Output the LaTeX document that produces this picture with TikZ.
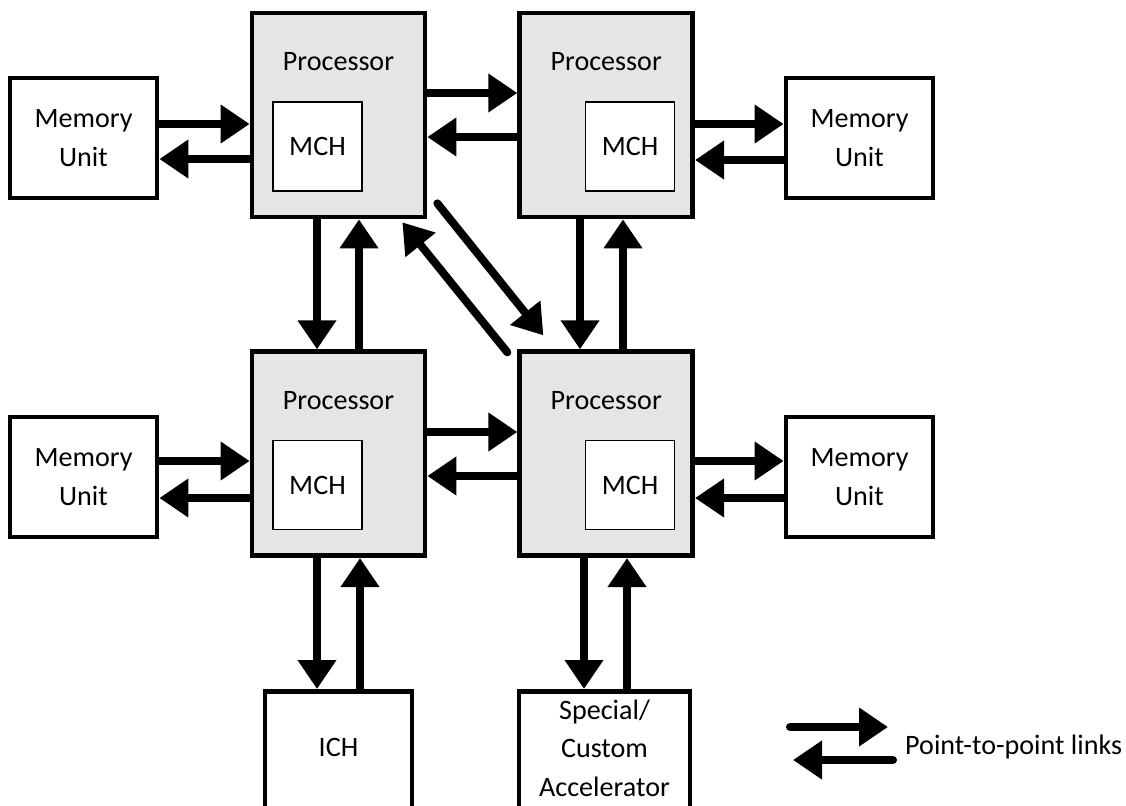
\documentclass[tikz,border=0pt]{standalone}
\usepackage{fontspec}
\setmainfont{Carlito}
\usetikzlibrary{positioning,calc,arrows.meta}
\tikzset{
	lbl/.style={font=\fontsize{16}{22}\selectfont, align=center},
	box/.style={lbl, draw, line width=0.095cm, fill=white, minimum width=2.94cm, minimum height=2.4cm},
	proc/.style={box, fill=gray!20, minimum width=3.46cm, minimum height=4.08cm},
	mch/.style={lbl, draw, line width=0.6pt, fill=white, minimum width=1.78cm, minimum height=1.78cm},
	link/.style={line width=0.16cm, line cap=round, -{Triangle[length=0.58cm,width=0.74cm]}},
}
\begin{document}
\begin{tikzpicture}[x=0.02cm, y=-0.02cm]
	\useasboundingbox (0,0) rectangle (1126,805);
	\clip (0,0) rectangle (1126,805);
	
	\node[proc] (p1) at (338.5,115) {};
	\node[proc, right=1.8cm of p1] (p2) {};
	\node[proc, below=2.6cm of p1] (p3) {};
	\node[proc, below=2.6cm of p2] (p4) {};
	\foreach \p/\dx in {p1/-21, p2/24, p3/-21, p4/24} {
		\node[lbl] (\p t) at ($(\p.north)+(0,51)$) {Processor};
		\node[mch] (\p m) at ($(\p)+(\dx,31.5)$) {MCH};
	}
	
	\node[box] (m1) at (83.5,138) {Memory\\Unit};
	\node[box] (m2) at (859.5,138) {Memory\\Unit};
	\node[box] (m3) at (83.5,477) {Memory\\Unit};
	\node[box] (m4) at (859.5,477) {Memory\\Unit};
	
	\node[box, minimum height=3.2cm, anchor=north] (ich) at (338.5,689) {};
	\node[lbl] (icht) at (338.5,747) {ICH};
	\node[box, minimum width=3.42cm, minimum height=3.2cm, anchor=north] (acc) at (604.5,689) {};
	\node[lbl] (acct) at (604.5,748) {Special/\\Custom\\Accelerator};
	
	\foreach \a/\b/\y in {m1/p1/124, m3/p3/461, p1/p2/93, p3/p4/432, p2/m2/124, p4/m4/461}
		\draw[link] (\a.east |- 0,\y) -- (\b.west |- 0,\y);
	\foreach \a/\b/\y in {p1/m1/159, p3/m3/498, p2/p1/137, p4/p3/476, m2/p2/160, m4/p4/498}
		\draw[link] (\a.west |- 0,\y) -- (\b.east |- 0,\y);
	\foreach \a/\b/\x in {p1/p3/317, p2/p4/580, p3/ich/317, p4/acc/584}
		\draw[link] (\a.south -| \x,0) -- (\b.north -| \x,0);
	\foreach \a/\b/\x in {p3/p1/359, p4/p2/623, ich/p3/360, acc/p4/627}
		\draw[link] (\a.north -| \x,0) -- (\b.south -| \x,0);
	\draw[link] ($(p1.south east)+(10,-16)$) -- ($(p4.north west)+(26,-14)$);
	\draw[link] ($(p4.north west)+(-10,3)$) -- ($(p1.south east)+(-25,3)$);
	
	\coordinate (k1) at (790,727);
	\coordinate (k2) at (888,727);
	\coordinate (k3) at (893,760);
	\coordinate (k4) at (793,760);
	\draw[link] (k1) -- (k2);
	\draw[link] (k3) -- (k4);
	\node[lbl, anchor=west] (key) at (899,747) {Point-to-point links};
\end{tikzpicture}
\end{document}
